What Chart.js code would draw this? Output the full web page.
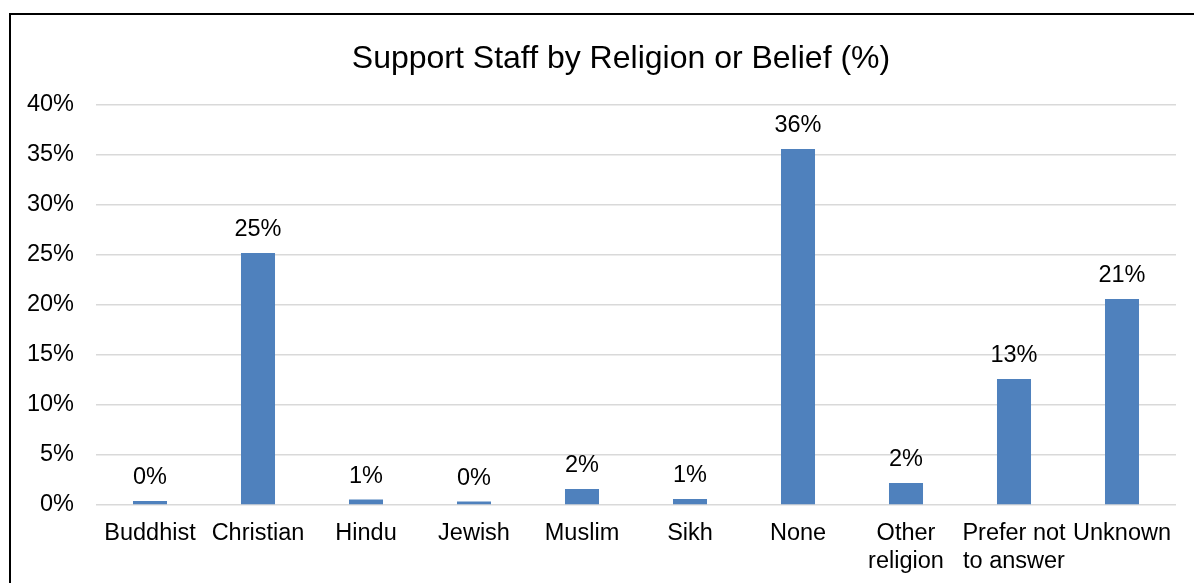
<!DOCTYPE html>
<html>
<head>
<meta charset="utf-8">
<title>Support Staff by Religion or Belief (%)</title>
<script src="https://cdn.jsdelivr.net/npm/chart.js@4.4.1/dist/chart.umd.min.js"></script>
<style>
  html, body { margin: 0; padding: 0; background: #fff; overflow: hidden; }
  #wrap { position: relative; width: 1194px; height: 583px; overflow: hidden; }
  #chart { position: absolute; left: 0; top: 0; }
  #frame {
    position: absolute; left: 9px; top: 13px; width: 1300px; height: 700px;
    border-left: 2px solid #000; border-top: 2px solid #000; pointer-events: none;
  }
</style>
</head>
<body>
<div id="wrap">
  <canvas id="chart" width="1194" height="583"></canvas>
  <div id="frame"></div>
</div>
<script>
// Share of support staff in each religion / belief group (percent)
const categories = [
  'Buddhist', 'Christian', 'Hindu', 'Jewish', 'Muslim',
  'Sikh', 'None', ['Other', 'religion'], ['Prefer not', 'to answer'], 'Unknown'
];
const staffShare = [0.4, 25.2, 0.55, 0.35, 1.6, 0.6, 35.6, 2.2, 12.6, 20.6];
const yTicks = [0, 5, 10, 15, 20, 25, 30, 35, 40];

const chartTitle = 'Support Staff by Religion or Belief (%)';
const FONT = '"Liberation Sans", Arial, sans-serif';
const BAR_BLUE = '#4F81BD';

// Title centred over the framed chart box
const boxTitle = {
  id: 'boxTitle',
  afterDraw(chart) {
    const ctx = chart.ctx;
    ctx.save();
    ctx.font = '32px ' + FONT;
    ctx.fillStyle = '#000';
    ctx.textAlign = 'center';
    ctx.textBaseline = 'alphabetic';
    ctx.fillText(chartTitle, 621, 68);
    ctx.restore();
  }
};

// Rounded percentage written above each bar
const barValues = {
  id: 'barValues',
  afterDatasetsDraw(chart) {
    const ctx = chart.ctx;
    const meta = chart.getDatasetMeta(0);
    ctx.save();
    ctx.font = '23.5px ' + FONT;
    ctx.fillStyle = '#000';
    ctx.textAlign = 'center';
    ctx.textBaseline = 'alphabetic';
    meta.data.forEach((bar, i) => {
      ctx.fillText(Math.round(staffShare[i]) + '%', bar.x, bar.y - 17);
    });
    ctx.restore();
  }
};

new Chart(document.getElementById('chart'), {
  type: 'bar',
  data: {
    labels: categories,
    datasets: [{
      data: staffShare,
      backgroundColor: BAR_BLUE,
      borderWidth: 0,
      barPercentage: 1,
      categoryPercentage: 0.315
    }]
  },
  options: {
    responsive: false,
    animation: false,
    devicePixelRatio: 1,
    layout: { padding: { top: 105, right: 18, left: 0, bottom: 0 } },
    plugins: {
      legend: { display: false },
      title: { display: false },
      tooltip: { enabled: false }
    },
    scales: {
      x: {
        grid: { display: false, drawTicks: false },
        border: { display: false },
        ticks: {
          color: '#000',
          font: { family: FONT, size: 23.5, lineHeight: 1.22 },
          padding: 14,
          maxRotation: 0,
          autoSkip: false
        },
        afterFit(scale) { scale.height = 78; }
      },
      y: {
        min: yTicks[0],
        max: yTicks[yTicks.length - 1],
        afterBuildTicks(scale) { scale.ticks = yTicks.map(v => ({ value: v })); },
        grid: { color: '#d9d9d9', lineWidth: 1.5, drawTicks: false },
        border: { display: false },
        ticks: {
          color: '#000',
          font: { family: FONT, size: 23.5 },
          padding: 22,
          callback: v => v + '%'
        },
        afterFit(scale) { scale.width = 96; }
      }
    }
  },
  plugins: [barValues, boxTitle]
});
</script>
</body>
</html>
